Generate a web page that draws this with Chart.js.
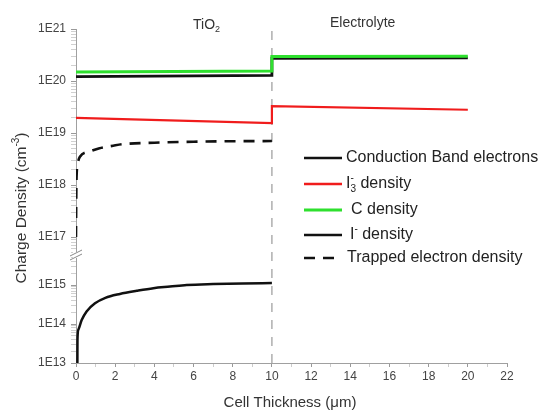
<!DOCTYPE html>
<html><head><meta charset="utf-8">
<script src="https://cdn.jsdelivr.net/npm/chart.js@4/dist/chart.umd.min.js"></script>
<style>html,body{margin:0;padding:0;background:#fff}canvas{display:block}</style>
</head><body>
<canvas id="c" width="539" height="412"></canvas>
<script>
// ---- data ----
const xTickLabels = ['0','2','4','6','8','10','12','14','16','18','20','22'];
const yUpperTicks = [1e17, 1e18, 1e19, 1e20, 1e21];
const yLowerTicks = [1e13, 1e14, 1e15];
const interfaceX = 10;

const cbX = [0.07, 0.075, 0.12, 0.29, 0.54, 0.97, 1.5, 2.24, 3.1, 3.95, 4.8, 5.65, 7, 8.5, 10];
const cbY = [1e13, 3.9e13, 7.1e13, 1.26e14, 2.1e14, 3.4e14, 4.7e14, 5.9e14, 7.1e14, 8.3e14, 9.1e14, 1.0e15, 1.06e15, 1.1e15, 1.12e15];

const i3X = [0, 10, 10, 20];
const i3Y = [1.95e19, 1.55e19, 3.3e19, 2.8e19];

const cX = [0, 10, 10, 20];
const cY = [1.49e20, 1.55e20, 2.95e20, 3.0e20];

const iX = [0, 10, 10, 20];
const iY = [1.21e20, 1.28e20, 2.74e20, 2.78e20];

const trX = [0, 0.01, 0.02, 0.04, 0.1, 0.2, 0.7, 1.2, 1.9, 2.4, 4, 6, 8, 10];
const trY = [1e17, 4e17, 1e18, 1.8e18, 2.7e18, 3.5e18, 4.4e18, 5.1e18, 5.7e18, 6.1e18, 6.5e18, 6.8e18, 6.95e18, 7.0e18];

// ---- helpers ----
const pts = (xs, ys) => xs.map((x, i) => ({x, y: ys[i]}));
const FONT = "'Liberation Sans', Arial, sans-serif";
const isPow10 = v => Math.abs(Math.log10(v) - Math.round(Math.log10(v))) < 1e-9;
function logTicks(min, max) {
  const out = [];
  for (let e = Math.floor(Math.log10(min)); e <= Math.ceil(Math.log10(max)); e++) {
    for (let k = 1; k <= 9; k++) {
      const v = k * Math.pow(10, e);
      if (v >= min * 0.9999 && v <= max * 1.0001) out.push({value: v, major: k === 1});
    }
  }
  return out;
}
const upMin = Math.pow(10, 16.654), upMax = 1e21;
const loMin = 1e13, loMax = Math.pow(10, 15.77);

const legendItems = [
  {parts: [{t: 'Conduction Band electrons'}], color: '#111', width: 2.5, dash: [], tx: 346, y: 158},
  {parts: [{t: 'I'}, {t: '3', sub: true}, {t: '-', sup: true, sameX: true}, {t: ' density'}], color: '#f01c1c', width: 2.5, dash: [], tx: 346, y: 184},
  {parts: [{t: 'C density'}], color: '#2ee02e', width: 3, dash: [], tx: 351, y: 210},
  {parts: [{t: 'I'}, {t: '-', sup: true}, {t: ' density'}], color: '#111', width: 2.5, dash: [], tx: 350, y: 235},
  {parts: [{t: 'Trapped electron density'}], color: '#111', width: 2.5, dash: [11, 8], tx: 347, y: 258},
];

function drawRich(ctx, parts, x, y, size) {
  let cx = x, lastStart = x;
  for (const p of parts) {
    const fs = (p.sub || p.sup) ? Math.round(size * 0.62) : size;
    ctx.font = fs + 'px ' + FONT;
    let dy = 0;
    if (p.sub) dy = size * 0.32;
    if (p.sup) dy = -size * 0.38;
    const sx = p.sameX ? lastStart : cx;
    ctx.fillText(p.t, sx, y + dy);
    const w = ctx.measureText(p.t).width;
    if (!p.sameX) { lastStart = cx; cx += w; } else { cx = Math.max(cx, sx + w); }
  }
}

const decor = {
  id: 'decor',
  beforeDatasetsDraw(chart) {
    const {ctx, chartArea, scales} = chart;
    const px = scales.x.getPixelForValue(interfaceX);
    ctx.save();
    ctx.strokeStyle = '#9a9a9a';
    ctx.lineWidth = 1.2;
    ctx.setLineDash([9, 8]);
    ctx.beginPath();
    ctx.moveTo(px, chartArea.bottom);
    ctx.lineTo(px, chartArea.top);
    ctx.stroke();
    ctx.restore();
  },
  afterDraw(chart) {
    const {ctx, chartArea, scales} = chart;
    ctx.save();
    // axis break
    const yb = scales.y.bottom;
    const ax = chartArea.left;
    ctx.fillStyle = '#fff';
    ctx.fillRect(ax - 3, yb - 3, 6, 6);
    ctx.strokeStyle = '#888';
    ctx.lineWidth = 1;
    ctx.beginPath();
    ctx.moveTo(ax - 6, yb + 1); ctx.lineTo(ax + 6, yb - 5);
    ctx.moveTo(ax - 6, yb + 5); ctx.lineTo(ax + 6, yb - 1);
    ctx.stroke();

    ctx.fillStyle = '#333';
    ctx.textBaseline = 'middle';
    ctx.textAlign = 'left';
    // region labels
    drawRich(ctx, [{t: 'TiO'}, {t: '2', sub: true}], 193, 25, 14);
    ctx.font = '14px ' + FONT;
    ctx.fillText('Electrolyte', 330, 23);

    // axis titles
    ctx.font = '15px ' + FONT;
    ctx.textAlign = 'center';
    ctx.fillText('Cell Thickness (\u03bcm)', 290, 403);
    ctx.save();
    ctx.translate(22, 208);
    ctx.rotate(-Math.PI / 2);
    ctx.textAlign = 'left';
    const main = 'Charge Density (cm';
    ctx.font = '15.5px ' + FONT;
    const w1 = ctx.measureText(main).width;
    ctx.font = '10px ' + FONT;
    const w2 = ctx.measureText('-3').width;
    ctx.font = '15.5px ' + FONT;
    const w3 = ctx.measureText(')').width;
    const start = -(w1 + w2 + w3) / 2;
    ctx.fillText(main, start, 0);
    ctx.font = '10px ' + FONT;
    ctx.fillText('-3', start + w1, -6);
    ctx.font = '15.5px ' + FONT;
    ctx.fillText(')', start + w1 + w2, 0);
    ctx.restore();

    // legend
    ctx.textAlign = 'left';
    for (const it of legendItems) {
      ctx.strokeStyle = it.color;
      ctx.lineWidth = it.width;
      ctx.setLineDash(it.dash);
      ctx.beginPath();
      ctx.moveTo(304, it.y); ctx.lineTo(342, it.y);
      ctx.stroke();
      ctx.setLineDash([]);
      ctx.fillStyle = '#222';
      drawRich(ctx, it.parts, it.tx, it.y, 16);
    }
    ctx.restore();
  }
};

const tickFont = {family: FONT, size: 12};
const gridBase = {drawOnChartArea: false, drawTicks: true, tickLength: 5};

new Chart(document.getElementById('c'), {
  type: 'line',
  data: {
    datasets: [
      {label: 'Conduction Band electrons', data: pts(cbX, cbY), yAxisID: 'y2', borderColor: '#111', borderWidth: 2.5, pointRadius: 0, cubicInterpolationMode: 'monotone'},
      {label: 'I3- density', data: pts(i3X, i3Y), yAxisID: 'y', borderColor: '#f01c1c', borderWidth: 2.2, pointRadius: 0},
      {label: 'C density', data: pts(cX, cY), yAxisID: 'y', borderColor: '#2ee02e', borderWidth: 3, pointRadius: 0},
      {label: 'I- density', data: pts(iX, iY), yAxisID: 'y', borderColor: '#111', borderWidth: 2.8, pointRadius: 0},
      {label: 'Trapped electron density', data: pts(trX, trY), yAxisID: 'y', borderColor: '#111', borderWidth: 2.6, borderDash: [11, 8], pointRadius: 0, cubicInterpolationMode: 'monotone'},
    ]
  },
  options: {
    responsive: false,
    animation: false,
    devicePixelRatio: 1,
    layout: {padding: {top: 29, right: 32, left: 0, bottom: 0}},
    plugins: {legend: {display: false}, tooltip: {enabled: false}},
    scales: {
      x: {
        type: 'linear', min: 0, max: 22,
        afterBuildTicks: s => { const t = []; for (let v = 0; v <= 22; v++) t.push({value: v}); s.ticks = t; },
        afterFit: s => { s.height = 49; },
        ticks: {autoSkip: false, maxRotation: 0, padding: 2, color: '#444', font: tickFont,
          callback: v => xTickLabels.includes(String(v)) ? String(v) : ''},
        grid: {...gridBase, tickLength: 4, tickColor: c => (c.tick && c.tick.value % 2 === 0) ? '#999' : '#ccc'},
        border: {color: '#a0a0a0', width: 1}
      },
      y2: {
        type: 'logarithmic', position: 'left', stack: 'ys', stackWeight: 108,
        min: loMin, max: loMax,
        afterBuildTicks: s => { s.ticks = logTicks(loMin, loMax); },
        afterFit: s => { s.width = 76; },
        ticks: {autoSkip: false, padding: 5, color: '#444', font: tickFont,
          callback: v => yLowerTicks.some(t => Math.abs(t - v) / t < 1e-6) ? '1E' + Math.round(Math.log10(v)) : ''},
        grid: {...gridBase, tickColor: c => (c.tick && isPow10(c.tick.value)) ? '#999' : '#d0d0d0'},
        border: {color: '#a0a0a0', width: 1}
      },
      y: {
        type: 'logarithmic', position: 'left', stack: 'ys', stackWeight: 226,
        min: upMin, max: upMax,
        afterBuildTicks: s => { s.ticks = logTicks(upMin, upMax); },
        afterFit: s => { s.width = 76; },
        ticks: {autoSkip: false, padding: 5, color: '#444', font: tickFont,
          callback: v => yUpperTicks.some(t => Math.abs(t - v) / t < 1e-6) ? '1E' + Math.round(Math.log10(v)) : ''},
        grid: {...gridBase, tickColor: c => (c.tick && isPow10(c.tick.value)) ? '#999' : '#d0d0d0'},
        border: {color: '#a0a0a0', width: 1}
      }
    }
  },
  plugins: [decor]
});
</script>
</body></html>
